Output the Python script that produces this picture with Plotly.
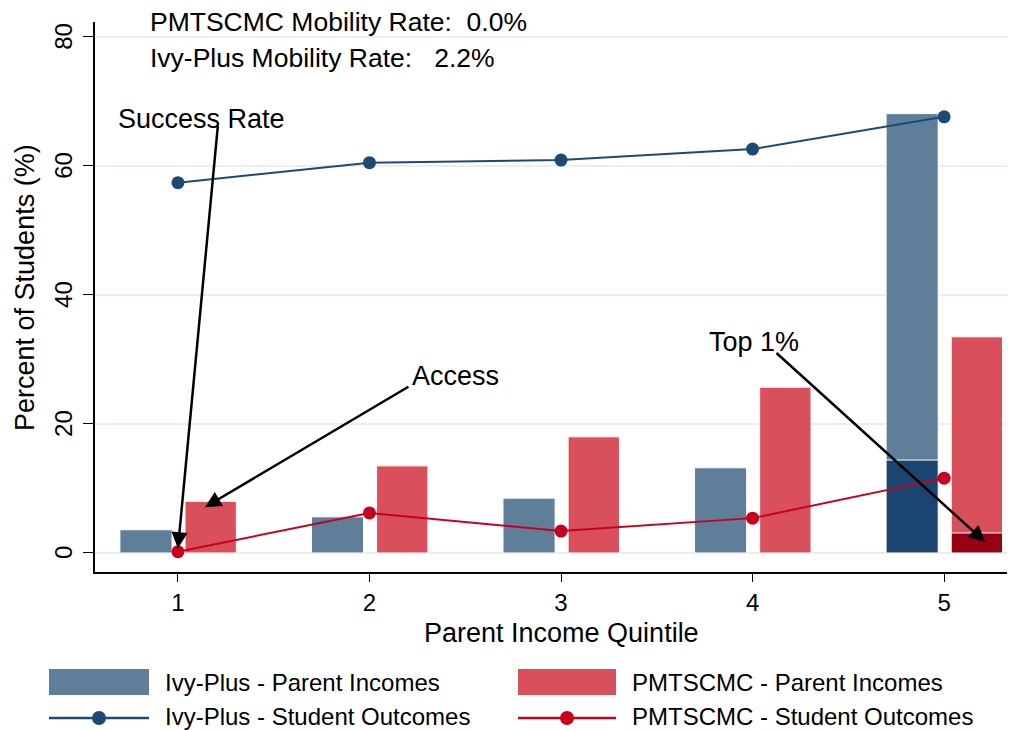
import plotly.graph_objects as go

quintiles = [1, 2, 3, 4, 5]
ivy_parent = [3.6, 5.6, 8.5, 13.2, 68.1]
pm_parent = [8.0, 13.5, 18.0, 25.7, 33.5]
ivy_top1 = [14.4]
pm_top1 = [3.1]
top1_x = [5]
ivy_outcomes = [57.4, 60.5, 60.9, 62.6, 67.6]
pm_outcomes = [0.2, 6.2, 3.4, 5.4, 11.6]
y_ticks = [0, 20, 40, 60, 80]

FONT = "Liberation Sans"
C_IVY = "#5f7e99"
C_IVY_D = "#1b4570"
C_PM = "#d94f5c"
C_PM_D = "#980014"
C_IVY_L = "#1c4a75"
C_PM_L = "#c8001e"

# page has an 8px body margin; figure is drawn 8px in from the top-left
PAGE_OFF = 8
W, H = 1015 - PAGE_OFF, 730 - PAGE_OFF
# plot area in page pixels: x 95..1015, y 22..572
L, R, T, B = 95, 1015, 22, 572
def px(x):
    return (x - L) / (R - L)
def py(y):
    return (B - y) / (B - T)

fig = go.Figure()
fig.add_trace(go.Bar(x=quintiles, y=ivy_parent, offset=-0.303, width=0.272,
                     marker=dict(color=C_IVY, line=dict(color="white", width=1)),
                     name="Ivy-Plus - Parent Incomes", showlegend=False))
fig.add_trace(go.Bar(x=quintiles, y=pm_parent, offset=0.037, width=0.268,
                     marker=dict(color=C_PM, line=dict(color="white", width=1)),
                     name="PMTSCMC - Parent Incomes", showlegend=False))
fig.add_trace(go.Bar(x=top1_x, y=ivy_top1, offset=-0.303, width=0.272,
                     marker=dict(color=C_IVY_D, line=dict(color="white", width=1)),
                     showlegend=False, name="Ivy-Plus Top 1%"))
fig.add_trace(go.Bar(x=top1_x, y=pm_top1, offset=0.037, width=0.268,
                     marker=dict(color=C_PM_D, line=dict(color="white", width=1)),
                     showlegend=False, name="PMTSCMC Top 1%"))
fig.add_trace(go.Scatter(x=quintiles, y=ivy_outcomes, mode="lines+markers",
                         line=dict(color=C_IVY_L, width=2),
                         marker=dict(color=C_IVY_L, size=13),
                         name="Ivy-Plus - Student Outcomes", showlegend=False))
fig.add_trace(go.Scatter(x=quintiles, y=pm_outcomes, mode="lines+markers",
                         line=dict(color=C_PM_L, width=2),
                         marker=dict(color=C_PM_L, size=13),
                         name="PMTSCMC - Student Outcomes", showlegend=False))

annots = []
shapes = []
def txt(x, y, s, size=27):
    annots.append(dict(x=x, y=y, xref="x", yref="y", text=s, showarrow=False,
                       xanchor="left", yanchor="middle",
                       font=dict(family=FONT, size=size, color="black")))
def arrow(x0, y0, x1, y1):
    annots.append(dict(x=x1, y=y1, ax=x0, ay=y0, xref="x", yref="y",
                       axref="x", ayref="y", text="", showarrow=True,
                       arrowhead=2, arrowsize=1.3, arrowwidth=2.5,
                       arrowcolor="black"))

txt(0.843, 82.3, "PMTSCMC Mobility Rate:  0.0%", 26.5)
txt(0.843, 76.7, "Ivy-Plus Mobility Rate:   2.2%", 26.5)
txt(0.676, 67.3, "Success Rate")
txt(2.211, 27.4, "Access")
txt(3.762, 32.7, "Top 1%")
arrow(1.209, 66.4, 1.0, 0.7)
arrow(2.211, 25.9, 1.141, 7.1)
arrow(4.117, 31.2, 5.214, 1.7)

# rotated y tick labels
for v in y_ticks:
    annots.append(dict(x=px(64), y=v, xref="paper", yref="y", text=str(v),
                       showarrow=False, textangle=-90, xanchor="center", yanchor="middle",
                       font=dict(family=FONT, size=24, color="black")))
# axis titles
annots.append(dict(x=px(25), y=py(288), xref="paper", yref="paper",
                   text="Percent of Students (%)", showarrow=False, textangle=-90,
                   xanchor="center", yanchor="middle",
                   font=dict(family=FONT, size=27, color="black")))
annots.append(dict(x=px(561), y=py(633), xref="paper", yref="paper",
                   text="Parent Income Quintile", showarrow=False,
                   xanchor="center", yanchor="middle",
                   font=dict(family=FONT, size=27, color="black")))

# legend (drawn manually): kind, colour, label, symbol x0, x1, symbol y, text y
legend_items = [
    ("bar", C_IVY, "Ivy-Plus - Parent Incomes", 49, 149, 682, 682),
    ("bar", C_PM, "PMTSCMC - Parent Incomes", 518, 616, 682, 682),
    ("line", C_IVY_L, "Ivy-Plus - Student Outcomes", 49, 149, 718, 716),
    ("line", C_PM_L, "PMTSCMC - Student Outcomes", 518, 616, 718, 716),
]
for kind, col, label, x0, x1, yc, yt in legend_items:
    if kind == "bar":
        shapes.append(dict(type="rect", xref="paper", yref="paper",
                           x0=px(x0), x1=px(x1), y0=py(yc + 13), y1=py(yc - 13),
                           fillcolor=col, line=dict(width=0)))
    else:
        shapes.append(dict(type="line", xref="paper", yref="paper",
                           x0=px(x0), x1=px(x1), y0=py(yc), y1=py(yc),
                           line=dict(color=col, width=2.5)))
        xc = (x0 + x1) / 2
        shapes.append(dict(type="circle", xref="paper", yref="paper",
                           x0=px(xc - 7), x1=px(xc + 7), y0=py(yc + 7), y1=py(yc - 7),
                           fillcolor=col, line=dict(color=col, width=0)))
    annots.append(dict(x=px(x1 + 14), y=py(yt), xref="paper", yref="paper",
                       text=label, showarrow=False, xanchor="left", yanchor="middle",
                       font=dict(family=FONT, size=24, color="black")))

fig.update_layout(
    width=W, height=H,
    margin=dict(l=L - PAGE_OFF, r=1015 - R, t=T - PAGE_OFF, b=730 - B, autoexpand=False),
    plot_bgcolor="white", paper_bgcolor="white",
    barmode="overlay", showlegend=False,
    font=dict(family=FONT, size=22, color="black"),
    annotations=annots, shapes=shapes,
    xaxis=dict(range=[0.567, 5.37], tickvals=quintiles, ticks="outside", ticklen=8,
               tickcolor="black", showline=True, linecolor="black", linewidth=1.5,
               showgrid=False, zeroline=False, automargin=False,
               tickfont=dict(size=24)),
    yaxis=dict(range=[-2.95, 82.3], tickvals=y_ticks, ticks="outside", ticklen=10,
               tickcolor="black", showline=True, linecolor="black", linewidth=1.5,
               showgrid=True, gridcolor="#e6eff2", gridwidth=1.5, zeroline=False,
               showticklabels=False, automargin=False),
)

fig.write_html("out.html")
